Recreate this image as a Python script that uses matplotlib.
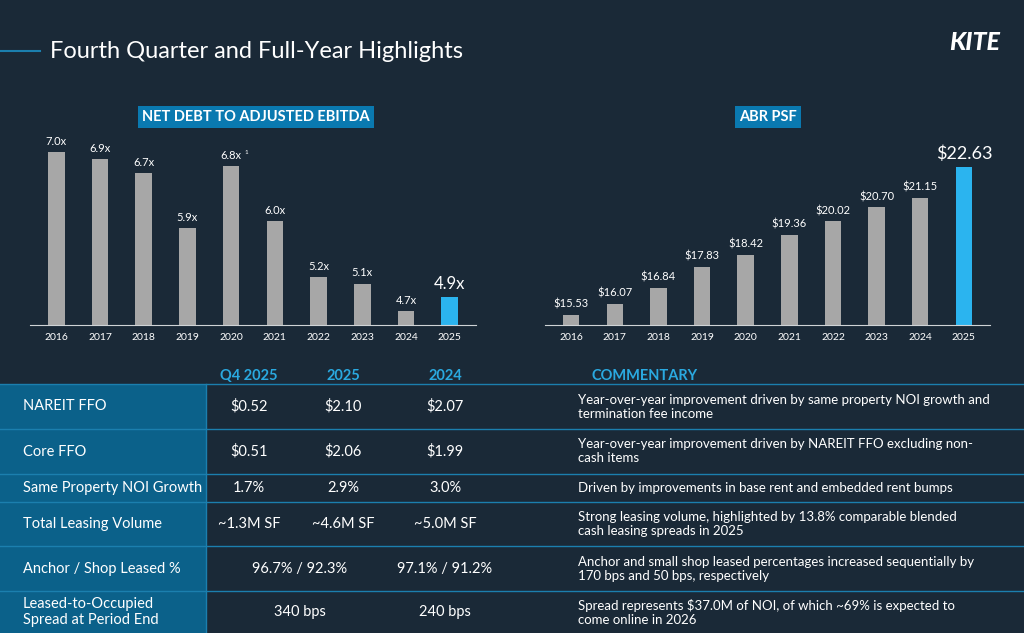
import numpy as np
import matplotlib.pyplot as plt
from matplotlib.patches import Rectangle

# ==================================
# Data
# ==================================
years = ["2016", "2017", "2018", "2019", "2020", "2021", "2022", "2023", "2024", "2025"]
net_debt = [7.0, 6.9, 6.7, 5.9, 6.8, 6.0, 5.2, 5.1, 4.7, 4.9]
abr_psf = [15.53, 16.07, 16.84, 17.83, 18.42, 19.36, 20.02, 20.70, 21.15, 22.63]

row_labels = ["NAREIT FFO", "Core FFO", "Same Property NOI Growth", "Total Leasing Volume",
              "Anchor / Shop Leased %", "Leased-to-Occupied\nSpread at Period End"]
col_headers = ["Q4 2025", "2025", "2024"]
q4_2025 = ["$0.52", "$0.51", "1.7%", "~1.3M SF"]
fy_2025 = ["$2.10", "$2.06", "2.9%", "~4.6M SF"]
fy_2024 = ["$2.07", "$1.99", "3.0%", "~5.0M SF"]
merged_2025 = ["96.7% / 92.3%", "340 bps"]
merged_2024 = ["97.1% / 91.2%", "240 bps"]
commentary = [
    "Year-over-year improvement driven by same property NOI growth and\ntermination fee income",
    "Year-over-year improvement driven by NAREIT FFO excluding non-\ncash items",
    "Driven by improvements in base rent and embedded rent bumps",
    "Strong leasing volume, highlighted by 13.8% comparable blended\ncash leasing spreads in 2025",
    "Anchor and small shop leased percentages increased sequentially by\n170 bps and 50 bps, respectively",
    "Spread represents $37.0M of NOI, of which ~69% is expected to\ncome online in 2026",
]

BG = "#1a2937"
GREY = "#a7a7a7"
HIGHLIGHT = "#2bb4ef"
LABEL_BLUE = "#0b618a"
LINE_BLUE = "#1b7fae"
HEAD_BLUE = "#2aa9e0"

W, H = 1024, 633
fig = plt.figure(figsize=(W / 100, H / 100), dpi=100, facecolor=BG)
plt.rcParams['font.family'] = ['Lato', 'DejaVu Sans']

def fx(x):
    return x / W

def fy(y):
    return 1 - y / H

# ==================================
# Title
# ==================================
fig.add_artist(plt.Line2D([0, fx(40)], [fy(51), fy(51)], color=LINE_BLUE, lw=1.5))
fig.text(fx(50), fy(51), "Fourth Quarter and Full-Year Highlights", color="white",
         fontsize=17, va="center")
fig.text(fx(1000), fy(42), "KITE", color="white", fontsize=18, fontweight="black",
         fontstyle="italic", ha="right", va="center")

# ==================================
# Bar charts
# ==================================
def bar_panel(rect, values, ymin, ymax, fmt, title, title_x, big_fs):
    ax = fig.add_axes(rect)
    ax.set_facecolor(BG)
    x = np.arange(len(values))
    colors = [GREY] * (len(values) - 1) + [HIGHLIGHT]
    ax.bar(x, np.array(values) - ymin, bottom=ymin, width=0.38, color=colors)
    ax.set_ylim(ymin, ymax)
    ax.set_xlim(-0.6, len(values) - 0.4)
    for i, v in enumerate(values):
        last = i == len(values) - 1
        ax.text(i, v + (ymax - ymin) * 0.025, fmt(v), color="white", ha="center", va="bottom",
                fontsize=big_fs if last else 8)
    ax.set_xticks(x)
    ax.set_xticklabels(years, color="white", fontsize=7.5)
    ax.tick_params(length=0, pad=6)
    ax.set_yticks([])
    for s in ["top", "right", "left"]:
        ax.spines[s].set_visible(False)
    ax.spines["bottom"].set_color("#cfd3d6")
    ax.spines["bottom"].set_linewidth(0.8)
    fig.text(title_x, fy(117), title, color="white", fontsize=10.5, fontweight="bold",
             ha="center", va="center",
             bbox=dict(boxstyle="square,pad=0.3", fc="#0a79b0", ec="none"))
    return ax

ax1 = bar_panel([fx(30), fy(325), fx(446), fy(120) - fy(325)], net_debt, 4.5, 7.47,
                lambda v: f"{v:.1f}x", "NET DEBT TO ADJUSTED EBITDA", fx(256), 12)
ax1.text(4 + 0.3, 6.8 + 0.18, "1", color="white", fontsize=4.5)
bar_panel([fx(545), fy(325), fx(445), fy(120) - fy(325)], abr_psf, 15.05, 24.88,
          lambda v: f"${v:.2f}", "ABR PSF", fx(768), 13)

# ==================================
# Table
# ==================================
row_edges = [384, 429, 474, 502, 546, 591, 633]
fig.add_artist(Rectangle((0, fy(633)), fx(206), fy(384) - fy(633), transform=fig.transFigure,
                         fc=LABEL_BLUE, ec="none"))
for y in row_edges[:-1]:
    fig.add_artist(plt.Line2D([0, 1], [fy(y), fy(y)], color=LINE_BLUE, lw=1))
fig.add_artist(plt.Line2D([fx(206), fx(206)], [fy(384), 0], color=LINE_BLUE, lw=1))

col_x = [249, 343, 445]
for cx, h in zip(col_x, col_headers):
    fig.text(fx(cx), fy(376), h, color=HEAD_BLUE, fontsize=10.5, fontweight="bold",
             ha="center", va="center")
fig.text(fx(592), fy(376), "COMMENTARY", color=HEAD_BLUE, fontsize=10.5, fontweight="bold",
         va="center")

for i in range(len(row_labels)):
    yc = fy((row_edges[i] + row_edges[i + 1]) / 2)
    fig.text(fx(23), yc, row_labels[i], color="white", fontsize=10.5, va="center", linespacing=1.1)
    if i < 4:
        for cx, vals in zip(col_x, [q4_2025, fy_2025, fy_2024]):
            fig.text(fx(cx), yc, vals[i], color="white", fontsize=10.5, ha="center", va="center")
    else:
        fig.text(fx(300), yc, merged_2025[i - 4], color="white", fontsize=10.5, ha="center", va="center")
        fig.text(fx(445), yc, merged_2024[i - 4], color="white", fontsize=10.5, ha="center", va="center")
    fig.text(fx(578), yc, commentary[i], color="white", fontsize=9.5, va="center", linespacing=1.2)

fig.savefig("out.png", dpi=100, facecolor=BG)
